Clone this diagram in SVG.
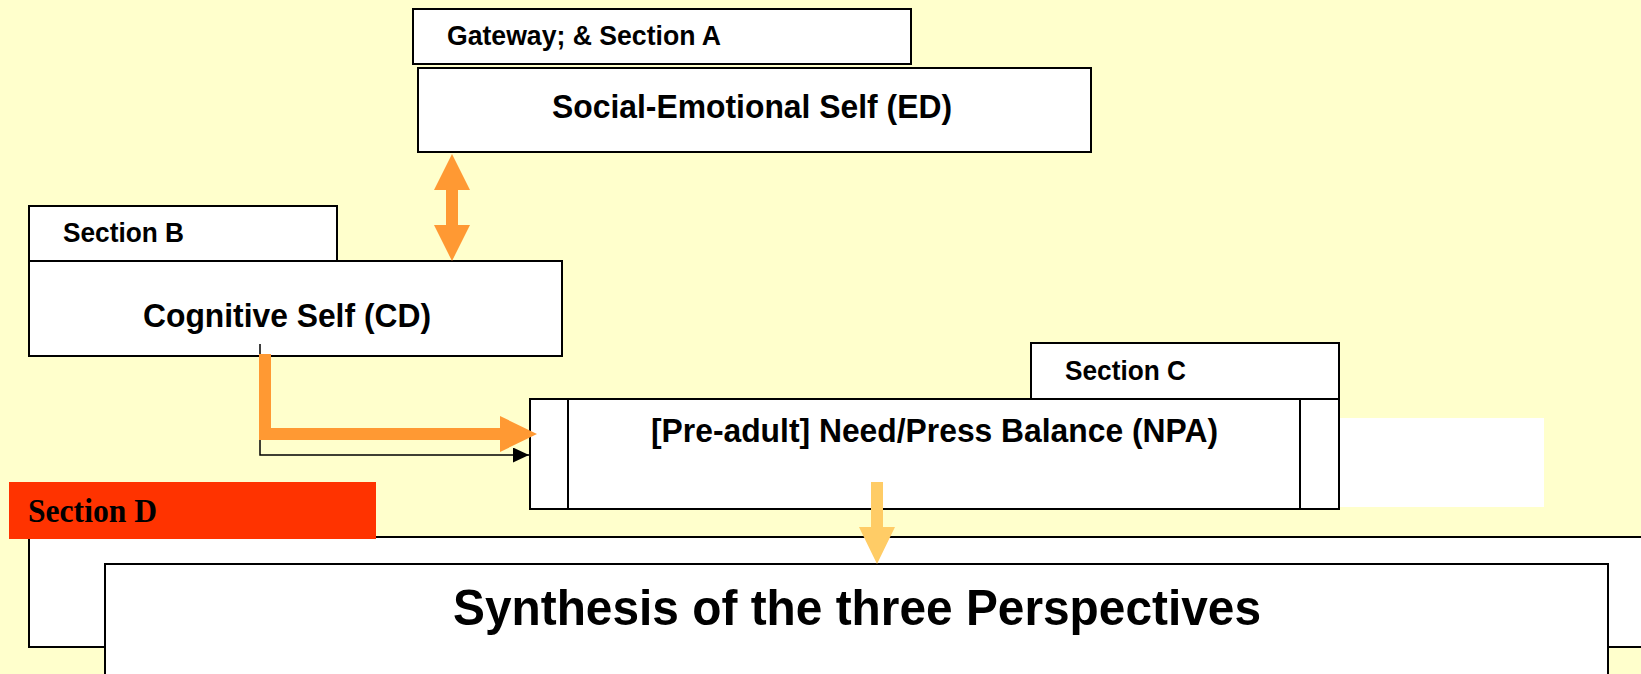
<svg xmlns="http://www.w3.org/2000/svg" width="1641" height="674" viewBox="0 0 1641 674">
  <defs>
    <style>
      .box { fill: #FFFFFF; stroke: #000000; stroke-width: 2; }
      .lbl { font-family: "Liberation Sans", Arial, sans-serif; font-weight: bold; font-size: 27.5px; fill: #000000; }
      .ttl { font-family: "Liberation Sans", Arial, sans-serif; font-weight: bold; font-size: 33px; fill: #000000; }
      .big { font-family: "Liberation Sans", Arial, sans-serif; font-weight: bold; font-size: 50px; fill: #000000; }
      .serif { font-family: "Liberation Serif", "Times New Roman", serif; font-weight: bold; font-size: 33px; fill: #000000; }
      .orange { fill: #FF9933; }
      .yellow { fill: #FFCC66; }
    </style>
    <marker id="blackhead" viewBox="0 0 16 15" refX="16" refY="7.5" markerWidth="16" markerHeight="15" markerUnits="userSpaceOnUse" orient="auto">
      <path d="M0,0 L16,7.5 L0,15 Z" fill="#000000"/>
    </marker>
  </defs>

  <rect x="0" y="0" width="1641" height="674" fill="#FFFFCC"/>

  <g id="section-d">
    <rect class="box" x="29" y="537" width="1640" height="110"/>
    <rect x="9" y="482" width="367" height="57" fill="#FF3300"/>
    <text class="serif" x="28" y="522" textLength="129" lengthAdjust="spacingAndGlyphs">Section D</text>
  </g>

  <g id="synthesis">
    <rect class="box" x="105" y="564" width="1503" height="120"/>
    <text class="big" x="857" y="625" text-anchor="middle" textLength="808" lengthAdjust="spacingAndGlyphs">Synthesis of the three Perspectives</text>
  </g>

  <g id="gateway">
    <rect class="box" x="413" y="9" width="498" height="55"/>
    <text class="lbl" x="447" y="45" textLength="274" lengthAdjust="spacingAndGlyphs">Gateway; &amp; Section A</text>
  </g>

  <g id="social-emotional">
    <rect class="box" x="418" y="68" width="673" height="84"/>
    <text class="ttl" x="752" y="118" text-anchor="middle" textLength="400" lengthAdjust="spacingAndGlyphs">Social-Emotional Self (ED)</text>
  </g>

  <g id="section-b">
    <rect class="box" x="29" y="206" width="308" height="55"/>
    <text class="lbl" x="63" y="242" textLength="121" lengthAdjust="spacingAndGlyphs">Section B</text>
  </g>

  <g id="cognitive">
    <rect class="box" x="29" y="261" width="533" height="95"/>
    <text class="ttl" x="287" y="327" text-anchor="middle" textLength="288" lengthAdjust="spacingAndGlyphs">Cognitive Self (CD)</text>
  </g>

  <g id="section-c">
    <rect class="box" x="1031" y="343" width="308" height="56"/>
    <text class="lbl" x="1065" y="380" textLength="121" lengthAdjust="spacingAndGlyphs">Section C</text>
  </g>

  <g id="npa">
    <rect x="1340" y="418" width="204" height="89" fill="#FFFFFF"/>
    <rect class="box" x="530" y="399" width="809" height="110"/>
    <line x1="568" y1="399" x2="568" y2="509" stroke="#000000" stroke-width="2"/>
    <line x1="1300" y1="399" x2="1300" y2="509" stroke="#000000" stroke-width="2"/>
    <text class="ttl" x="934.5" y="442" text-anchor="middle" textLength="567" lengthAdjust="spacingAndGlyphs">[Pre-adult] Need/Press Balance (NPA)</text>
  </g>

  <g id="connectors">
    <polygon class="orange" points="452,154 470,190 458,190 458,225 470,225 452,261 434,225 446,225 446,190 434,190"/>
    <path d="M260,344 V455 H529" fill="none" stroke="#000000" stroke-width="1.5" marker-end="url(#blackhead)"/>
    <polygon class="orange" points="259,354 271,354 271,428 500,428 500,416 537,434 500,452 500,440 259,440"/>
    <polygon class="yellow" points="871,482 883,482 883,527 895,527 877,564 859,527 871,527"/>
  </g>
</svg>
